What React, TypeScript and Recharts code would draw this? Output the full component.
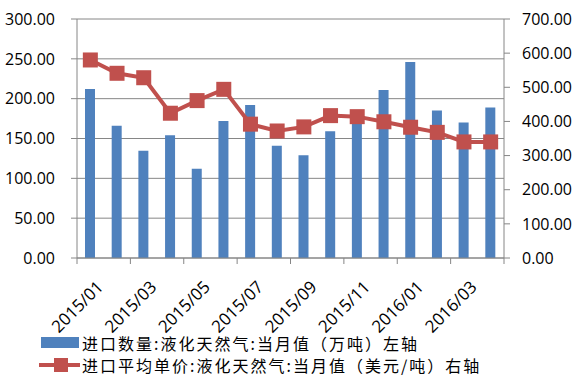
import React from 'react';
import { ComposedChart, Bar, Line, XAxis, YAxis, CartesianGrid, Legend } from 'recharts';

const categories = ['2015/01','2015/02','2015/03','2015/04','2015/05','2015/06','2015/07','2015/08','2015/09','2015/10','2015/11','2015/12','2016/01','2016/02','2016/03','2016/04'];
const importVolume = [212, 166, 134.5, 154, 112, 172, 192, 141, 129, 159, 178, 211, 246, 185, 170, 189];
const importPrice = [580, 541, 528, 424, 461, 494, 392, 372, 384, 417, 414, 399, 383, 368, 340, 340];
const leftTicks = [0, 50, 100, 150, 200, 250, 300];
const rightTicks = [0, 100, 200, 300, 400, 500, 600, 700];
const volumeName = '进口数量:液化天然气:当月值（万吨）左轴';
const priceName = '进口平均单价:液化天然气:当月值（美元/吨）右轴';

const data = categories.map((m, i) => ({ month: m, volume: importVolume[i], price: importPrice[i] }));

const AXIS = '#868686';
const BAR = '#4F81BD';
const LINE = '#C0504D';
const FONT = '"Open Sans", "Liberation Sans", sans-serif';

const XTick = (props: any) => {
  const { x, y, payload } = props;
  const half = payload && payload.offset ? payload.offset : 13.35;
  const idx = categories.indexOf(payload.value);
  const ax = x + 14;
  const ay = y + 30;
  return (
    <g>
      <line x1={x - half} x2={x - half} y1={y} y2={y + 6} stroke={AXIS} strokeWidth={1} />
      {idx === categories.length - 2 ? (
        <line x1={x + 3 * half} x2={x + 3 * half} y1={y} y2={y + 6} stroke={AXIS} strokeWidth={1} />
      ) : null}
      <text
        x={ax}
        y={ay}
        transform={`rotate(-45, ${ax}, ${ay})`}
        textAnchor="end"
        fontSize={17}
        fontFamily={FONT}
        fill="#000"
      >
        {payload.value}
      </text>
    </g>
  );
};

const SquareDot = (props: any) => {
  const { cx, cy } = props;
  if (cx == null || cy == null) return null;
  return <rect x={cx - 7.5} y={cy - 7.5} width={15} height={15} fill={LINE} />;
};

const LegendContent = () => (
  <div style={{ fontFamily: '"Noto Sans CJK SC", sans-serif', fontSize: 16, letterSpacing: 2, color: '#000', lineHeight: '22px' }}>
    <div style={{ display: 'flex', alignItems: 'center', height: 22 }}>
      <svg width={44} height={22} style={{ display: 'block' }}>
        <rect x={3} y={5} width={38} height={11} fill={BAR} />
      </svg>
      <span>{volumeName}</span>
    </div>
    <div style={{ display: 'flex', alignItems: 'center', height: 22 }}>
      <svg width={44} height={22} style={{ display: 'block' }}>
        <line x1={1} x2={42} y1={11} y2={11} stroke={LINE} strokeWidth={4} />
        <rect x={16} y={4} width={14} height={14} fill={LINE} />
      </svg>
      <span>{priceName}</span>
    </div>
  </div>
);

export default function App() {
  return (
    <div style={{ position: 'absolute', left: 0, top: 0, width: 578, height: 376, background: '#fff' }}>
      <ComposedChart width={578} height={376} data={data} margin={{ top: 19, right: 0, left: 0, bottom: 14 }}>
        <CartesianGrid yAxisId="left" horizontal vertical={false} stroke={AXIS} strokeWidth={1} />
        <XAxis
          dataKey="month"
          interval={1}
          tickSize={0}
          tickMargin={0}
          tick={<XTick />}
          tickLine={false}
          axisLine={{ stroke: AXIS }}
          height={60}
        />
        <YAxis
          yAxisId="left"
          orientation="left"
          domain={[0, 300]}
          ticks={leftTicks}
          tickFormatter={(v: number) => v.toFixed(2)}
          width={77}
          tickSize={6}
          tickMargin={16}
          axisLine={{ stroke: AXIS }}
          tickLine={{ stroke: AXIS }}
          tick={{ fontSize: 16, fontFamily: FONT, fill: '#000' }}
          interval={0}
        />
        <YAxis
          yAxisId="right"
          orientation="right"
          domain={[0, 700]}
          ticks={rightTicks}
          tickFormatter={(v: number) => v.toFixed(2)}
          width={74}
          tickSize={6}
          tickMargin={12}
          axisLine={{ stroke: AXIS }}
          tickLine={{ stroke: AXIS }}
          tick={{ fontSize: 16, fontFamily: FONT, fill: '#000', textAnchor: 'start' }}
          interval={0}
        />
        <Legend
          content={<LegendContent />}
          wrapperStyle={{ position: 'absolute', left: 38, top: 332, width: 540, height: 44 }}
        />
        <Bar yAxisId="left" dataKey="volume" name={volumeName} fill={BAR} barSize={10} isAnimationActive={false} />
        <Line
          yAxisId="right"
          dataKey="price"
          name={priceName}
          stroke={LINE}
          strokeWidth={4}
          dot={<SquareDot />}
          activeDot={false}
          isAnimationActive={false}
        />
      </ComposedChart>
    </div>
  );
}
